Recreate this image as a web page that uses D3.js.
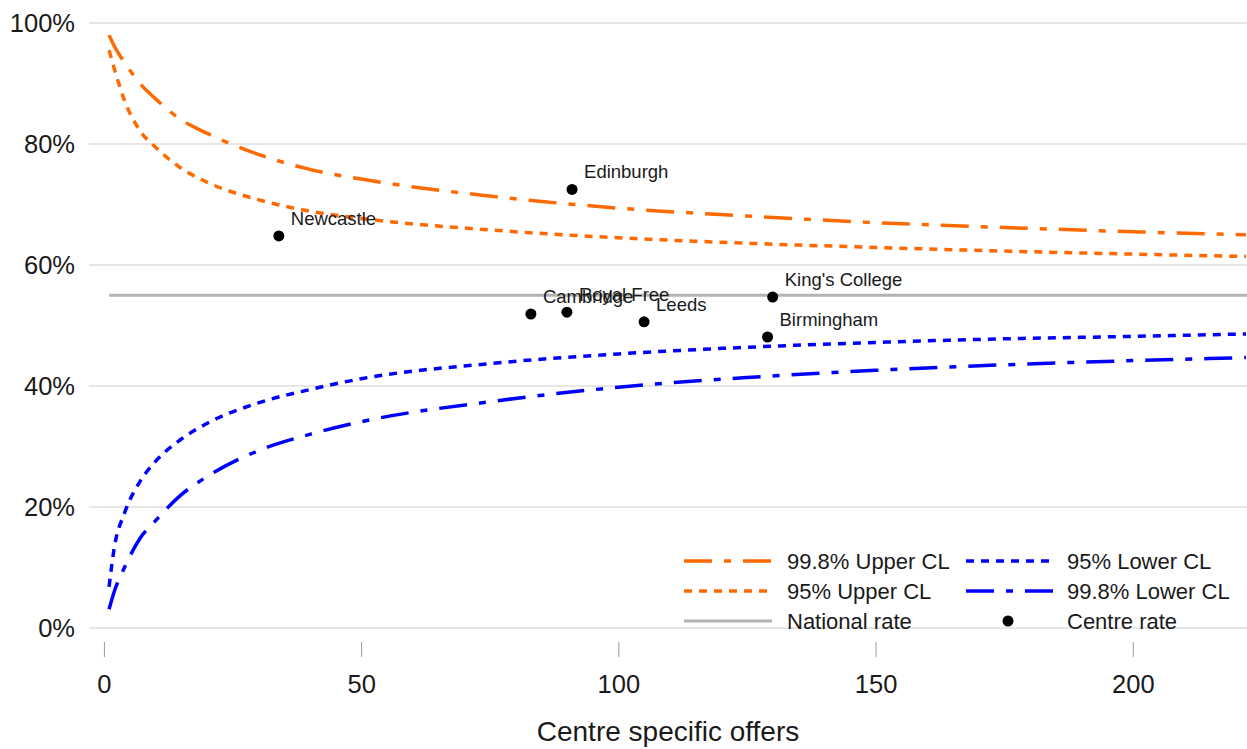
<!DOCTYPE html>
<html>
<head>
<meta charset="utf-8">
<script src="https://cdn.jsdelivr.net/npm/d3@7"></script>
<style>
  body { margin: 0; background: #fff; }
  svg { display: block; font-family: "Liberation Sans", Arial, sans-serif; }
</style>
</head>
<body>
<div id="chart"></div>
<script>
// size of the picture
var width = 1247,
	height = 749;

// x positions where the limit curves were read
var offers = [1, 2, 4, 7, 10, 15, 20, 30, 40, 50, 75, 100, 125, 150, 175, 200, 222];

// control limits
var upper998 = [0.980, 0.962, 0.935, 0.900, 0.875, 0.840, 0.818, 0.783, 0.758, 0.742, 0.714, 0.694, 0.681, 0.670, 0.662, 0.655, 0.650];
var upper95  = [0.955, 0.925, 0.872, 0.822, 0.795, 0.760, 0.737, 0.708, 0.689, 0.677, 0.658, 0.645, 0.636, 0.629, 0.623, 0.618, 0.614];
var lower95  = [0.068, 0.132, 0.190, 0.242, 0.275, 0.312, 0.338, 0.372, 0.394, 0.412, 0.437, 0.453, 0.464, 0.472, 0.478, 0.482, 0.486];
var lower998 = [0.031, 0.060, 0.100, 0.148, 0.177, 0.220, 0.250, 0.293, 0.320, 0.341, 0.374, 0.398, 0.414, 0.426, 0.435, 0.442, 0.447];

var nationalRate = 0.55;

// centres
var centres = ["Newcastle", "Edinburgh", "Cambridge", "Royal Free", "Leeds", "King's College", "Birmingham"];
var centreOffers = [34, 91, 83, 90, 105, 130, 129];
var centreRates = [0.648, 0.725, 0.519, 0.522, 0.506, 0.547, 0.481];

var xTicks = [0, 50, 100, 150, 200];
var yTicks = [0, 0.2, 0.4, 0.6, 0.8, 1.0];

var orange = "#ff6a00",
	blue = "#0000ff",
	grey = "#b3b3b3";

var dashDot = "28,12,7,12",
	dotted = "8,7";

var svg = d3.select("#chart")
	.append("svg")
	.attr("width", width)
	.attr("height", height);

var x = d3.scaleLinear().domain([-2.9, 222.2]).range([89, 1247]);
var y = d3.scaleLinear().domain([0, 1]).range([628, 23]);

//gridlines
svg.append("g")
	.selectAll("line")
	.data(yTicks)
	.enter()
	.append("line")
	.attr("x1", x.range()[0])
	.attr("x2", x.range()[1])
	.attr("y1", function(d) { return y(d); })
	.attr("y2", function(d) { return y(d); })
	.attr("stroke", "#e6e6e6")
	.attr("stroke-width", 2);

//y axis (labels only)
var yAxis = svg.append("g")
	.attr("transform", "translate(75,0)")
	.call(d3.axisLeft(y).tickValues(yTicks).tickFormat(d3.format(".0%")).tickSize(0).tickPadding(0));
yAxis.select(".domain").remove();
yAxis.selectAll("text")
	.attr("font-size", 25.5)
	.attr("fill", "#1a1a1a")
	.attr("font-family", "Liberation Sans, Arial, sans-serif");

//x axis
var xAxis = svg.append("g")
	.attr("transform", "translate(0,642)")
	.call(d3.axisBottom(x).tickValues(xTicks).tickSize(15).tickPadding(18));
xAxis.select(".domain").remove();
xAxis.selectAll("line").attr("stroke", "#999").attr("stroke-width", 1);
xAxis.selectAll("text")
	.attr("font-size", 25.5)
	.attr("fill", "#1a1a1a")
	.attr("font-family", "Liberation Sans, Arial, sans-serif");

svg.append("text")
	.attr("x", 668)
	.attr("y", 741)
	.attr("text-anchor", "middle")
	.attr("font-size", 28)
	.attr("fill", "#1a1a1a")
	.text("Centre specific offers");

//national rate
svg.append("line")
	.attr("x1", x(1))
	.attr("x2", x.range()[1])
	.attr("y1", y(nationalRate))
	.attr("y2", y(nationalRate))
	.attr("stroke", grey)
	.attr("stroke-width", 3);

//limit curves
var line = d3.line()
	.x(function(d) { return x(d[0]); })
	.y(function(d) { return y(d[1]); })
	.curve(d3.curveMonotoneX);

function addCurve(values, colour, dash){
	svg.append("path")
		.datum(d3.zip(offers, values))
		.attr("d", line)
		.attr("fill", "none")
		.attr("stroke", colour)
		.attr("stroke-width", 3.5)
		.attr("stroke-dasharray", dash);
}

addCurve(upper998, orange, dashDot);
addCurve(upper95, orange, dotted);
addCurve(lower95, blue, dotted);
addCurve(lower998, blue, dashDot);

//centre points
var pts = svg.append("g");
centres.forEach(function(name, i){
	var cx = x(centreOffers[i]),
		cy = y(centreRates[i]);
	pts.append("circle")
		.attr("cx", cx)
		.attr("cy", cy)
		.attr("r", 5.5)
		.attr("fill", "#000");
	pts.append("text")
		.attr("x", cx + 12)
		.attr("y", cy - 11)
		.attr("font-size", 18.5)
		.attr("fill", "#1a1a1a")
		.text(name);
});

//legend
var legendItems = [
	{label: "99.8% Upper CL", colour: orange, dash: dashDot, col: 0, row: 0},
	{label: "95% Upper CL", colour: orange, dash: dotted, col: 0, row: 1},
	{label: "National rate", colour: grey, dash: null, col: 0, row: 2},
	{label: "95% Lower CL", colour: blue, dash: dotted, col: 1, row: 0},
	{label: "99.8% Lower CL", colour: blue, dash: dashDot, col: 1, row: 1},
	{label: "Centre rate", point: true, col: 1, row: 2}
];
var colX = [684, 966],
	textX = [787, 1067],
	rowY = [561, 591, 621];

var legend = svg.append("g");
legendItems.forEach(function(d){
	var ly = rowY[d.row];
	if (d.point){
		legend.append("circle")
			.attr("cx", colX[d.col] + 42)
			.attr("cy", ly)
			.attr("r", 5.5)
			.attr("fill", "#000");
	}
	else {
		legend.append("line")
			.attr("x1", colX[d.col])
			.attr("x2", colX[d.col] + 88)
			.attr("y1", ly)
			.attr("y2", ly)
			.attr("stroke", d.colour)
			.attr("stroke-width", d.dash ? 3.5 : 3)
			.attr("stroke-dasharray", d.dash);
	}
	legend.append("text")
		.attr("x", textX[d.col])
		.attr("y", ly)
		.attr("dy", "0.35em")
		.attr("font-size", 22)
		.attr("fill", "#1a1a1a")
		.text(d.label);
});
</script>
</body>
</html>
